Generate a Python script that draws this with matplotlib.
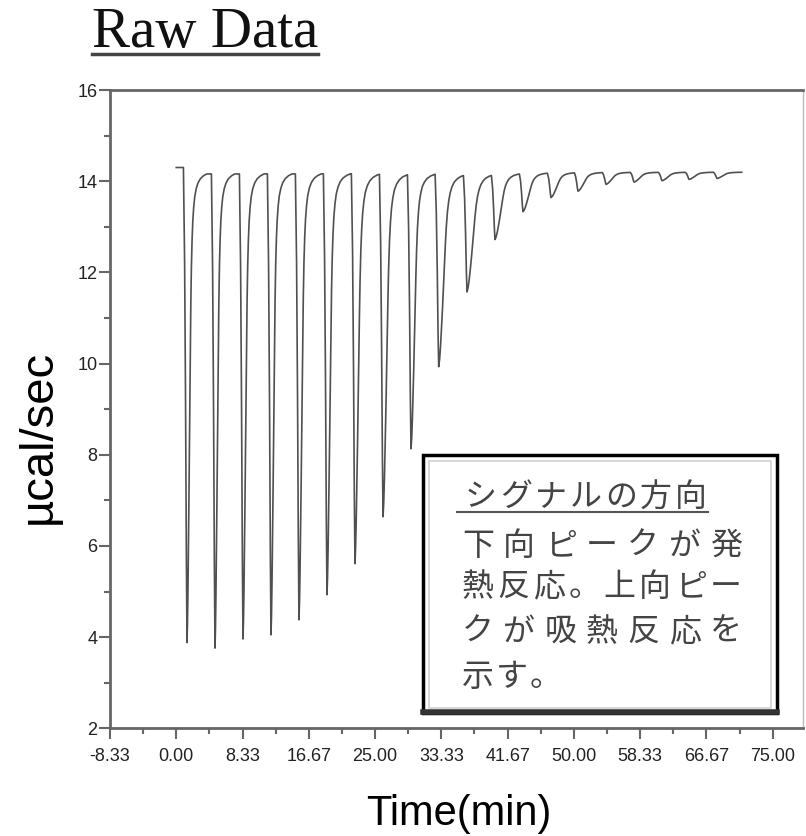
import matplotlib
matplotlib.use('Agg')
import matplotlib.pyplot as plt
import numpy as np
from matplotlib.patches import Rectangle
from matplotlib.lines import Line2D

plt.rcParams['font.family'] = ['Liberation Sans', 'DejaVu Sans']

# --- data ---
# time of each injection minimum (min) and the minimum signal (ucal/sec)
inj_time = [1.35, 4.87, 8.39, 11.91, 15.43, 18.95, 22.47, 26.00, 29.52, 33.00,
            36.56, 40.08, 43.60, 47.12, 50.52, 54.04, 57.56, 61.08, 64.48, 68.00]
peak_min = [3.88, 3.76, 3.96, 4.05, 4.38, 4.93, 5.61, 6.64, 8.13, 9.93,
            11.57, 12.72, 13.33, 13.64, 13.78, 13.93, 13.98, 14.01, 14.04, 14.06]
# how slowly each peak returns to baseline (relative to the template below)
recovery_scale = [0.75, 0.75, 0.8, 0.8, 0.85, 0.9, 1.0, 1.1, 1.1, 1.5,
                  1.8, 1.8, 1.8, 1.8, 1.8, 1.8, 1.8, 1.8, 1.8, 1.8]
baseline = 14.2
start_level = 14.3
trace_end = 71.1

# peak shape template (fraction of peak depth vs minutes from the minimum)
drop_dt = [-0.45, -0.30, -0.18, -0.08, 0.0]
drop_frac = [0.0, 0.2, 0.5, 0.82, 1.0]
rec_dt = [0.00, 0.08, 0.16, 0.24, 0.32, 0.40, 0.48, 0.56, 0.64, 0.74, 0.85,
          0.97, 1.12, 1.30, 1.55, 1.85, 2.25, 2.75, 3.30]
rec_frac = [1.00, 0.96, 0.89, 0.80, 0.70, 0.59, 0.48, 0.37, 0.28, 0.20, 0.145,
            0.105, 0.075, 0.052, 0.035, 0.023, 0.014, 0.008, 0.004]

x_ticks = [-8.33, 0.00, 8.33, 16.67, 25.00, 33.33, 41.67, 50.00, 58.33, 66.67, 75.00]
x_tick_labels = ['-8.33', '0.00', '8.33', '16.67', '25.00', '33.33', '41.67',
                 '50.00', '58.33', '66.67', '75.00']
y_ticks = [2, 4, 6, 8, 10, 12, 14, 16]
y_minor = [3, 5, 7, 9, 11, 13, 15]

note_lines = ['シグナルの方向', '下向ピークが発', '熱反応。上向ピー', 'クが吸熱反応を', '示す。']

# --- build the trace from the peaks ---
t = [0.0]
y = [start_level]
n = len(inj_time)
for i in range(n):
    tm, ymin, s = inj_time[i], peak_min[i], recovery_scale[i]
    level = y[-1]
    for d, f in zip(drop_dt, drop_frac):
        t.append(tm + d)
        y.append(level + (ymin - level) * f)
    end = inj_time[i + 1] + drop_dt[0] if i + 1 < n else trace_end
    depth = baseline - ymin
    for d, f in zip(rec_dt[1:], rec_frac[1:]):
        if tm + d * s >= end:
            break
        t.append(tm + d * s)
        y.append(baseline - depth * f)
    f_end = np.interp((end - tm) / s, rec_dt, rec_frac)
    t.append(end)
    y.append(baseline - depth * f_end)

W, H = 806, 836
fig = plt.figure(figsize=(W / 100, H / 100), dpi=100)


def fx(px):
    return px / W


def fy(py):
    return 1 - py / H


ax = fig.add_axes([fx(110), fy(728.3), fx(803.3) - fx(110), fy(90) - fy(728.3)])
ax.plot(t, y, color='#505050', lw=1.2)

ax.set_xlim(-8.333, 78.85)
ax.set_ylim(2, 16)
ax.set_xticks(x_ticks)
ax.set_xticklabels(x_tick_labels)
ax.set_xticks([(a + b) / 2 for a, b in zip(x_ticks[:-1], x_ticks[1:])], minor=True)
ax.set_yticks(y_ticks)
ax.set_yticks(y_minor, minor=True)

ax.tick_params(which='both', direction='out', color='#666666', width=1.5, labelsize=13,
               labelcolor='#222222')
ax.tick_params(which='major', length=8)
ax.tick_params(which='minor', length=4.5)
ax.tick_params(axis='y', pad=1)
ax.tick_params(axis='x', pad=6)

for side in ['left', 'bottom', 'top']:
    ax.spines[side].set_color('#666666')
    ax.spines[side].set_linewidth(2)
ax.spines['right'].set_color('#bbbbbb')
ax.spines['right'].set_linewidth(1)

# axis labels
fig.text(fx(38.5), fy(437), 'µcal/sec', rotation=90, fontsize=34, ha='center', va='center')
fig.text(fx(459), fy(814), 'Time(min)', fontsize=30, ha='center', va='center')

# underlined title
fig.text(fx(92), fy(47), 'Raw Data', fontsize=41, family=['Liberation Serif'],
         ha='left', va='baseline', color='#111111')
fig.add_artist(Line2D([fx(92), fx(318)], [fy(53.5), fy(53.5)], transform=fig.transFigure,
                      lw=2.5, color='#444444'))

# note box
box = Rectangle((fx(423.3), fy(713.3)), fx(776.7) - fx(423.3), fy(455) - fy(713.3),
                transform=fig.transFigure, facecolor='white', edgecolor='black', lw=2.5, zorder=5)
fig.add_artist(box)
inner = Rectangle((fx(429), fy(708)), fx(771) - fx(429), fy(461) - fy(708),
                  transform=fig.transFigure, fill=False, edgecolor='#d0d0d0', lw=1.2, zorder=6)
fig.add_artist(inner)
fig.add_artist(Line2D([fx(423.3), fx(776.7)], [fy(712), fy(712)], transform=fig.transFigure,
                      lw=4, color='#333333', zorder=7))

# (left px, right px or None, baseline px, pitch px)
line_layout = [(463, None, 506, 35), (460, 740, 555, None), (460, 740, 596, None),
               (460, 740, 641, None), (460, None, 686, 34)]
char_w = 32
for text, (left, right, base, pitch) in zip(note_lines, line_layout):
    if pitch is None:
        pitch = (right - left - char_w) / (len(text) - 1)
    for k, ch in enumerate(text):
        fig.text(fx(left + k * pitch + 2), fy(base), ch, fontsize=23,
                 family=['Noto Sans CJK JP', 'DejaVu Sans'], color='#444444',
                 ha='left', va='baseline', zorder=8)
fig.add_artist(Line2D([fx(457), fx(708)], [fy(512), fy(512)], transform=fig.transFigure,
                      lw=1.5, color='#555555', zorder=8))

fig.savefig('out.png', dpi=100)
